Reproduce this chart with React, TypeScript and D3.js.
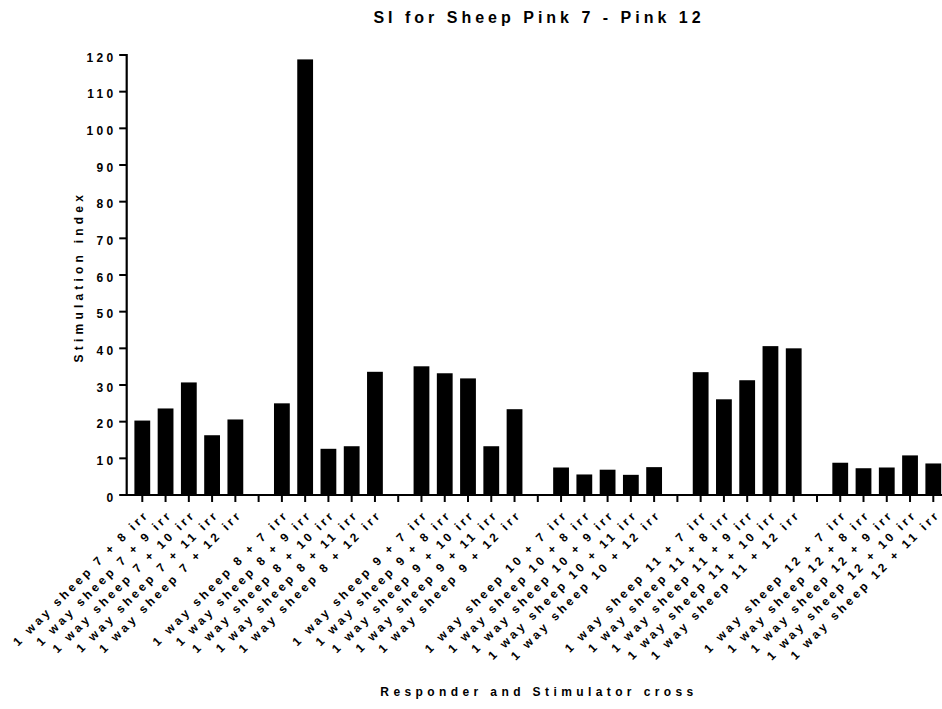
import React from "react";
import * as d3 from "d3";

const groups = ["7", "8", "9", "10", "11", "12"];
const stimulators: string[][] = [
  ["8", "9", "10", "11", "12"],
  ["7", "9", "10", "11", "12"],
  ["7", "8", "10", "11", "12"],
  ["7", "8", "9", "11", "12"],
  ["7", "8", "9", "10", "12"],
  ["7", "8", "9", "10", "11"],
];
const values: number[][] = [
  [20.3, 23.6, 30.7, 16.3, 20.6],
  [25.0, 118.8, 12.6, 13.3, 33.6],
  [35.1, 33.2, 31.8, 13.3, 23.4],
  [7.5, 5.6, 6.9, 5.5, 7.6],
  [33.5, 26.1, 31.3, 40.6, 40.0],
  [8.8, 7.3, 7.5, 10.8, 8.6],
];
const yTicks = [0, 10, 20, 30, 40, 50, 60, 70, 80, 90, 100, 110, 120];
const title = "SI for Sheep Pink 7 - Pink 12";
const yTitle = "Stimulation index";
const xTitle = "Responder and Stimulator cross";

type Slot = { key: number; label: string | null; value: number | null };
const slots: Slot[] = [];
groups.forEach((g, gi) => {
  if (gi > 0) slots.push({ key: slots.length, label: null, value: null });
  stimulators[gi].forEach((s, si) => {
    slots.push({
      key: slots.length,
      label: `1 way sheep ${g} + ${s} irr`,
      value: values[gi][si],
    });
  });
});

export default function App() {
  const W = 942;
  const H = 709;
  const axisX = 126.7;
  const y = d3.scaleLinear().domain([0, 120]).range([495, 55]);
  const x = d3
    .scalePoint<number>()
    .domain(slots.map((s) => s.key))
    .range([142.3, 933.3]);
  const barW = 15.8;
  const font = "'Liberation Sans', Arial, sans-serif";
  const y0 = y(0);
  return (
    <svg
      width={W}
      height={H}
      style={{ position: "absolute", left: 0, top: 0, background: "#fff" }}
      fontFamily={font}
      fontWeight="bold"
    >
      <text
        x={539}
        y={22.5}
        textAnchor="middle"
        fontSize={16}
        letterSpacing={4}
        fill="#000"
      >
        {title}
      </text>
      {slots
        .filter((s) => s.value !== null)
        .map((s) => (
          <rect
            key={"b" + s.key}
            x={(x(s.key) as number) - barW / 2}
            y={y(s.value as number)}
            width={barW}
            height={y0 - y(s.value as number)}
            fill="#000"
          />
        ))}
      {/* y axis */}
      <line x1={axisX} x2={axisX} y1={y(120) - 1} y2={y0 + 1} stroke="#000" strokeWidth={2.2} />
      {yTicks.map((t) => (
        <g key={"yt" + t}>
          <line x1={axisX - 7.5} x2={axisX} y1={y(t)} y2={y(t)} stroke="#000" strokeWidth={2} />
          <text
            x={116.5}
            y={y(t) + 6.5}
            textAnchor="end"
            fontSize={12}
            letterSpacing={3.3}
            fill="#000"
          >
            {t}
          </text>
        </g>
      ))}
      {/* x axis */}
      <line x1={axisX - 1} x2={W} y1={y0} y2={y0} stroke="#000" strokeWidth={2.2} />
      {slots.map((s) => (
        <line
          key={"xt" + s.key}
          x1={x(s.key) as number}
          x2={x(s.key) as number}
          y1={y0}
          y2={y0 + 7}
          stroke="#000"
          strokeWidth={2}
        />
      ))}
      {slots
        .filter((s) => s.label)
        .map((s) => (
          <text
            key={"xl" + s.key}
            transform={`translate(${(x(s.key) as number) + 7.5},${y0 + 20}) rotate(-45)`}
            textAnchor="end"
            fontSize={12}
            letterSpacing={3.3}
            fill="#000"
          >
            {s.label}
          </text>
        ))}
      <text
        transform={`translate(${83},${276.7}) rotate(-90)`}
        textAnchor="middle"
        fontSize={12}
        letterSpacing={4.2}
        fill="#000"
      >
        {yTitle}
      </text>
      <text
        x={539}
        y={695.5}
        textAnchor="middle"
        fontSize={12}
        letterSpacing={4.4}
        fill="#000"
      >
        {xTitle}
      </text>
    </svg>
  );
}
